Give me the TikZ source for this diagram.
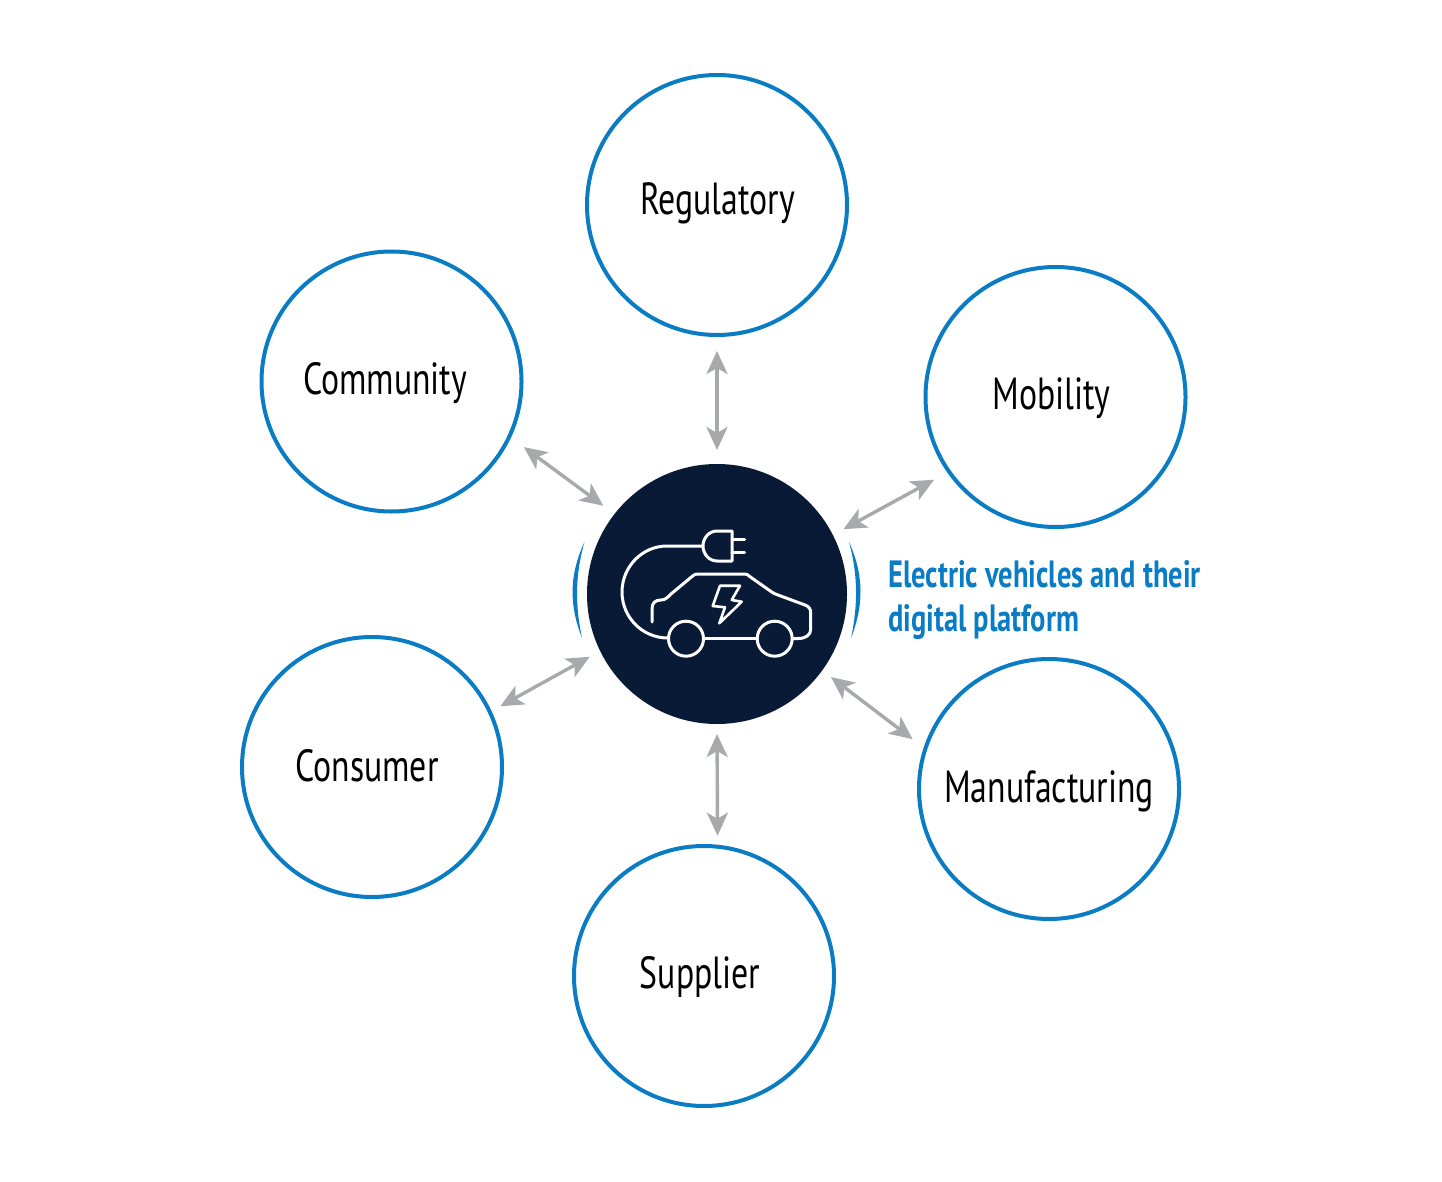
\documentclass[tikz,border=0pt]{standalone}
\usepackage{fontspec}
\setmainfont[FakeStretch=0.75]{PT Sans}
\usepackage{xcolor}
\usetikzlibrary{arrows.meta}
\definecolor{ringblue}{HTML}{0A7CC4}
\definecolor{hubnavy}{HTML}{091A37}
\definecolor{linkgray}{HTML}{A7A9AC}

\begin{document}
\begin{tikzpicture}[
  x=1pt, y=-1pt, >={Stealth[length=23pt,width=21pt,inset=6pt]},
  ring/.style={draw=ringblue,line width=4pt,circle,minimum size=260pt,inner sep=0pt,outer sep=0pt,fill=white},
  hubdisc/.style={fill=hubnavy,circle,minimum size=260pt,inner sep=0pt,outer sep=0pt},
  lab/.style={font=\fontsize{45}{52}\selectfont,text=black},
  link/.style={<->,draw=linkgray,color=linkgray,line width=3.4pt},
  icon/.style={draw=white,line width=3pt,line join=round,line cap=round}
]
\useasboundingbox (0,0) rectangle (1442,1182);

\node[hubdisc] (hub) at (717,594) {};
\node[ring] (regulatory) at (717,205) {};
\node[ring] (community) at (391.5,381.5) {};
\node[ring] (mobility) at (1055.5,397) {};
\node[ring] (consumer) at (372,767) {};
\node[ring] (manufacturing) at (1049,789) {};
\node[ring] (supplier) at (704,976) {};

\node[lab] (reglab) at (717.5,203) {Regulatory};
\node[lab] (comlab) at (385,383) {Community};
\node[lab] (moblab) at (1051.5,398) {Mobility};
\node[lab] (conlab) at (367,766) {Consumer};
\node[lab] (manlab) at (1049,791) {Manufacturing};
\node[lab] (suplab) at (700,977) {Supplier};

\node[anchor=west,align=left,inner sep=0pt,text=ringblue,font=\fontsize{38}{44}\selectfont\bfseries] (evlab) at (888,600) {Electric vehicles and their\\digital platform};

\draw[link,shorten <=16pt,shorten >=14pt] (regulatory.south) -- (hub.north);
\draw[link,shorten <=18pt,shorten >=14pt] (community.-25.4) -- (hub.142.3);
\draw[link,shorten <=17pt,shorten >=12pt] (mobility.215.6) -- (hub.27);
\draw[link,shorten <=12pt,shorten >=12pt] (consumer.25.3) -- (hub.206.9);
\draw[link,shorten <=16pt,shorten >=11pt] (manufacturing.162.2) -- (hub.-36.5);
\draw[link,shorten <=11pt,shorten >=10pt] (supplier.84.3) -- (hub.south);

\fill[ringblue] (584.5,542) .. controls (569,575) and (569,605) .. (582,638) .. controls (575,605) and (575,575) .. (584.5,542) -- cycle;
\fill[ringblue] (849,542) .. controls (864,575) and (864,605) .. (851,638) .. controls (858,605) and (858,575) .. (849,542) -- cycle;

\draw[icon] (703,546) -- (667,546) .. controls (642,546) and (622,567) .. (622,592) .. controls (622,617) and (642,638) .. (668,638);
\draw[icon] (732,531) -- (717,531) .. controls (709,531) and (703,538) .. (703,546) .. controls (703,554) and (709,561) .. (717,561) -- (732,561) -- cycle;
\draw[icon] (732,539.3) -- (744.5,539.3);
\draw[icon] (732,552.7) -- (744.5,552.7);
\draw[icon] (686,638.7) circle [radius=17.5pt];
\draw[icon] (774.7,638.7) circle [radius=17.5pt];
\draw[icon] (703.5,638.5) -- (757,638.5);
\draw[icon] (792,638.5) -- (798,638.5) .. controls (806,638.5) and (810.7,635) .. (810.7,629) -- (810.7,613) .. controls (810.7,609) and (809,606.5) .. (805,605) -- (778,595) .. controls (775,594) and (773,593) .. (771,591.5) -- (749,576) .. controls (748,575) and (747,574) .. (745,574) -- (697,574) .. controls (695,574) and (694,575) .. (692,576.5) -- (671,594) .. controls (667,598) and (665,600) .. (661,600) .. controls (655,600) and (652,603) .. (652,609) -- (652,622);
\draw[icon,line width=2.6pt] (720,585.7) -- (740,585.7) -- (731.7,600) -- (741.7,601.7) -- (719.3,623.3) -- (725,607.3) -- (712.7,606) -- cycle;
\end{tikzpicture}
\end{document}
